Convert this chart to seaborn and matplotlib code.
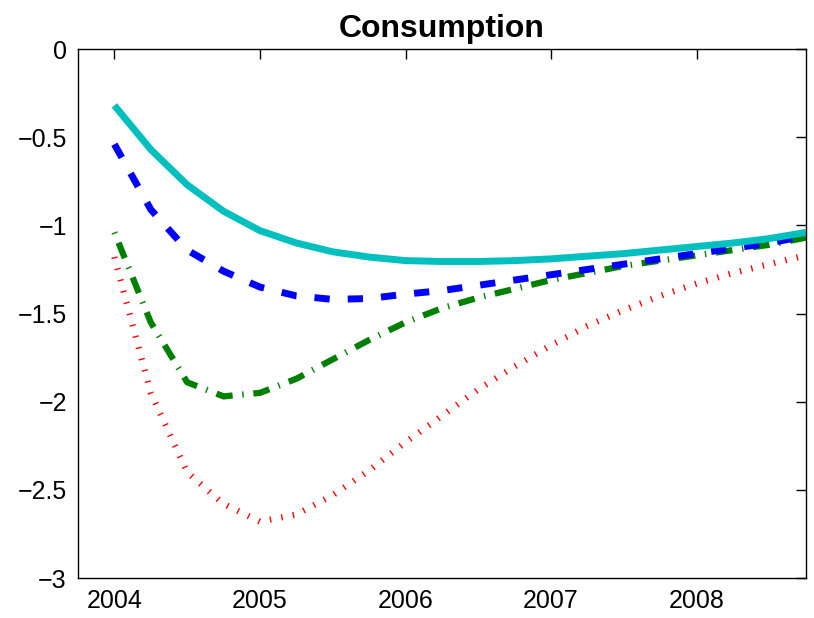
import numpy as np
import pandas as pd
import seaborn as sns
import matplotlib.pyplot as plt
from matplotlib.ticker import FuncFormatter

# quarterly responses, 2004Q1 .. 2008Q4
quarters = [2004.00, 2004.25, 2004.50, 2004.75,
            2005.00, 2005.25, 2005.50, 2005.75,
            2006.00, 2006.25, 2006.50, 2006.75,
            2007.00, 2007.25, 2007.50, 2007.75,
            2008.00, 2008.25, 2008.50, 2008.75]

cyan_solid = [-0.32, -0.57, -0.77, -0.92, -1.03, -1.10, -1.15, -1.18, -1.20, -1.205,
              -1.205, -1.20, -1.19, -1.175, -1.16, -1.14, -1.12, -1.10, -1.075, -1.04]
blue_dashed = [-0.54, -0.91, -1.14, -1.26, -1.35, -1.40, -1.42, -1.415, -1.39, -1.37,
               -1.34, -1.31, -1.28, -1.25, -1.22, -1.19, -1.16, -1.13, -1.10, -1.06]
green_dashdot = [-1.04, -1.55, -1.89, -1.97, -1.95, -1.87, -1.76, -1.65, -1.55, -1.47,
                 -1.41, -1.36, -1.31, -1.27, -1.23, -1.20, -1.17, -1.14, -1.11, -1.07]
red_dotted = [-1.18, -1.95, -2.40, -2.58, -2.68, -2.64, -2.53, -2.39, -2.23, -2.08,
              -1.93, -1.80, -1.68, -1.57, -1.48, -1.40, -1.33, -1.27, -1.22, -1.17]

x_ticks = [2004, 2005, 2006, 2007, 2008]
y_ticks = [0, -0.5, -1, -1.5, -2, -2.5, -3]

sns.set_style('white')
plt.rcParams['font.family'] = ['Liberation Sans', 'DejaVu Sans']
plt.rcParams['lines.scale_dashes'] = False
plt.rcParams['lines.solid_capstyle'] = 'butt'
plt.rcParams['lines.dash_capstyle'] = 'butt'

fig = plt.figure(figsize=(8.14, 6.18), dpi=100)
ax = fig.add_axes([0.0958, 0.0647, 0.8942, 0.856])

# matlab-style dots: near zero-length dashes on a fat line -> thin strokes across the curve
sns.lineplot(x=quarters, y=red_dotted, ax=ax, color='#ff0000', lw=4.5,
             linestyle=(0, (1.0, 7.4)))
sns.lineplot(x=quarters, y=green_dashdot, ax=ax, color='#008000', lw=4.5,
             linestyle=(0, (1.0, 7.0, 12, 7.0)))
sns.lineplot(x=quarters, y=blue_dashed, ax=ax, color='#0000ff', lw=5,
             linestyle=(0, (11, 13)))
sns.lineplot(x=quarters, y=cyan_solid, ax=ax, color='#00bfbf', lw=5)

ax.set_xlim(2003.75, 2008.75)
ax.set_ylim(-3, 0)
ax.set_xticks(x_ticks)
ax.set_yticks(y_ticks)
ax.yaxis.set_major_formatter(FuncFormatter(lambda v, p: ('%g' % v).replace('-', '\u2212')))
ax.tick_params(direction='in', length=7, width=1, labelsize=18, colors='black',
               labelcolor='black', top=True, right=True, pad=8)
for s in ax.spines.values():
    s.set_visible(True)
    s.set_color('black')
    s.set_linewidth(1)

ax.set_title('Consumption', fontsize=23, fontweight='bold', pad=9, color='black')

fig.savefig('out.png', dpi=100)
